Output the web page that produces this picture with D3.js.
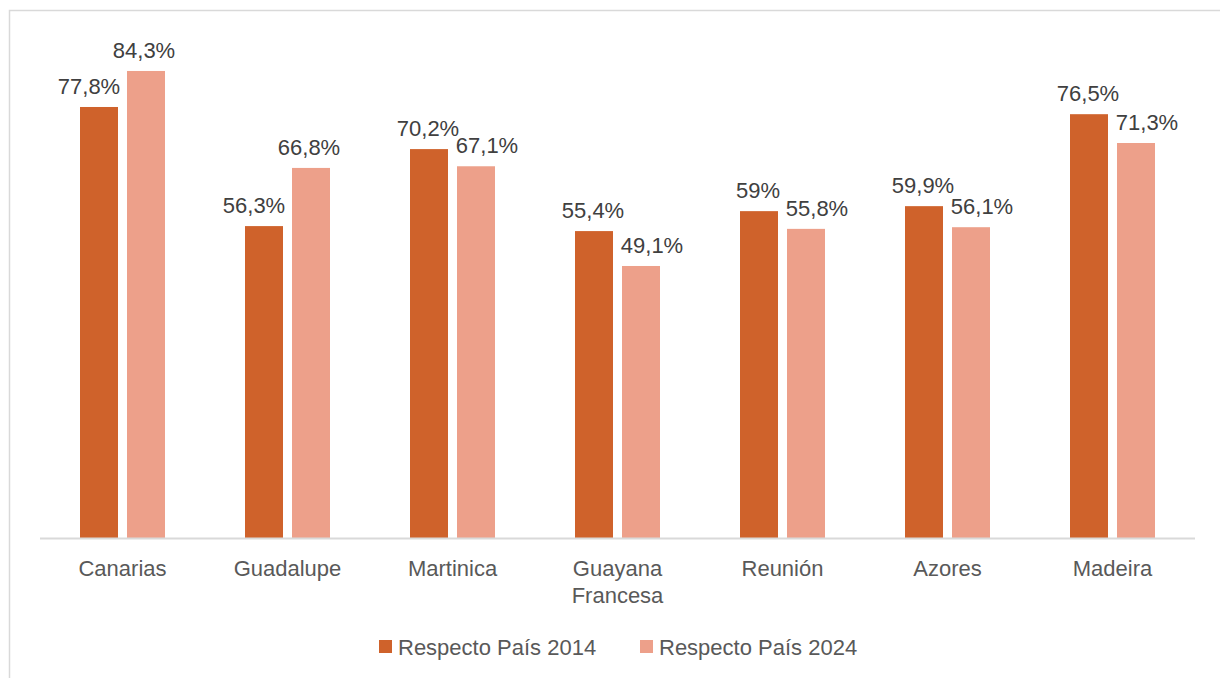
<!DOCTYPE html>
<html><head><meta charset="utf-8">
<script src="https://cdn.jsdelivr.net/npm/d3@7"></script>
<style>html,body{margin:0;padding:0;background:#fff;}svg{display:block;font-family:"Liberation Sans",Arial,sans-serif;}</style>
</head><body>
<svg id="chart" width="1220" height="678"></svg>
<script>
const categories = ["Canarias","Guadalupe","Martinica","Guayana Francesa","Reunión","Azores","Madeira"];
const seriesNames = ["Respecto País 2014","Respecto País 2024"];
const values2014 = [77.8,56.3,70.2,55.4,59.0,59.9,76.5];
const values2024 = [84.3,66.8,67.1,49.1,55.8,56.1,71.3];
const colors = ["#CF622B","#EDA08A"];

const svg = d3.select("#chart");
svg.append("rect").attr("x",9.5).attr("y",10.5).attr("width",1240).attr("height",700)
  .attr("fill","#fff").attr("stroke","#d9d9d9").attr("stroke-width",1.5);

const left=40,right=1195,base=538;
const x = d3.scaleBand().domain(categories).range([left,right]).paddingInner(0).paddingOuter(0);
const y = d3.scaleLinear().domain([0,90]).range([base, base-90*5.54]);
const series = [values2014, values2024];
const barW = 38, gap = 9;
const FS = 22;

const fmt = v => (Number.isInteger(v) ? String(v) : v.toFixed(1).replace(".",",")) + "%";

categories.forEach((c,i)=>{
  const cx = x(c) + x.bandwidth()/2;
  series.forEach((vals,s)=>{
    const bx = s===0 ? cx - gap/2 - barW : cx + gap/2;
    svg.append("rect").attr("x",bx).attr("y",y(vals[i])).attr("width",barW)
      .attr("height",base-y(vals[i])).attr("fill",colors[s]);
  });
});
// labels
categories.forEach((c,i)=>{
  const cx = x(c) + x.bandwidth()/2;
  series.forEach((vals,s)=>{
    const other = series[1-s][i];
    const bx = s===0 ? cx - gap/2 - barW/2 : cx + gap/2 + barW/2;
    let dx = 0;
    if (vals[i] < other) dx = s===0 ? -10 : 11;
    else dx = s===0 ? -1 : -2;
    svg.append("text").attr("x",bx+dx).attr("y",y(vals[i])-13)
      .attr("text-anchor","middle").attr("font-size",FS).attr("fill","#404040")
      .text(fmt(vals[i]));
  });
});

svg.append("line").attr("x1",left).attr("x2",right).attr("y1",base+0.5).attr("y2",base+0.5)
  .attr("stroke","#d9d9d9").attr("stroke-width",2);

// category labels
categories.forEach(c=>{
  const cx = x(c) + x.bandwidth()/2;
  const words = c.split(" ");
  const t = svg.append("text").attr("x",cx).attr("y",576).attr("text-anchor","middle")
    .attr("font-size",FS).attr("fill","#595959");
  words.forEach((w,k)=>{
    t.append("tspan").attr("x",cx).attr("dy",k===0?0:27).text(w);
  });
});

// legend
const legX = [379, 640];
seriesNames.forEach((n,s)=>{
  svg.append("rect").attr("x",legX[s]).attr("y",640).attr("width",13).attr("height",13).attr("fill",colors[s]);
  svg.append("text").attr("x",legX[s]+19).attr("y",655).attr("font-size",FS).attr("fill","#595959").text(n);
});
</script>
</body></html>
